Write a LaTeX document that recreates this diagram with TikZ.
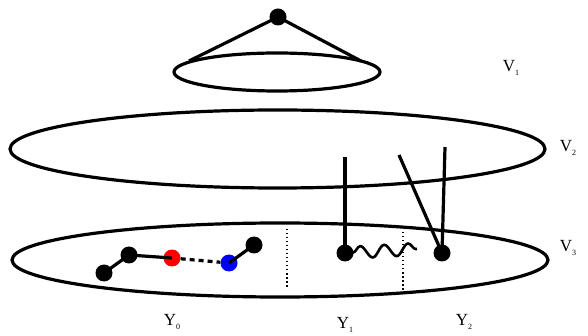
\documentclass[tikz,border=0pt]{standalone}
\usepackage{fontspec}
\setmainfont{Liberation Serif}
\usetikzlibrary{decorations.pathmorphing}
\newcommand\sublab[2]{#1\raisebox{-0.45ex}{\fontsize{8}{8}\selectfont #2}}
\tikzset{
  ring/.style={draw, line width=3.2pt},
  stroke/.style={line width=3.2pt},
  ball/.style={circle, fill=black, inner sep=0pt, minimum size=17pt},
  lbl/.style={font=\fontsize{17}{17}\selectfont, inner sep=0pt},
  dots/.style={line width=1.1pt, dash pattern=on 1.5pt off 2.5pt}
}
\begin{document}
\begin{tikzpicture}[x=1pt,y=-1pt]
\useasboundingbox (0,0) rectangle (588,336);
% ellipses
\draw[ring] (277,72) ellipse [x radius=103, y radius=19];
\draw[ring] (277.5,149) ellipse [x radius=267.5, y radius=39];
\draw[ring] (280,260) ellipse [x radius=268, y radius=37];
% apex and cone
\node[ball] (apex) at (278,17) {};
\coordinate (cl) at (189,61);
\coordinate (cr) at (361,61);
\draw[stroke] (cl) -- (apex.center) -- (cr);
% dotted separators
\coordinate (d1t) at (287,229); \coordinate (d1b) at (287,289);
\coordinate (d2t) at (403,232); \coordinate (d2b) at (403,290);
\draw[dots] (d1t) -- (d1b);
\draw[dots] (d2t) -- (d2b);
% Y0 chain
\node[ball] (a) at (104,273) {};
\node[ball] (b) at (129,255) {};
\node[ball, fill=red] (r) at (172,258) {};
\node[ball, fill=blue] (bl) at (229,263) {};
\node[ball] (e) at (254,245) {};
\draw[stroke] (a.center) -- (b.center) -- (r.center);
\draw[line width=3.2pt, dash pattern=on 5pt off 4pt] (r) -- (bl);
\draw[stroke] (bl.center) -- (e.center);
% Y1 and Y2
\node[ball] (y1) at (345,253) {};
\node[ball] (y2) at (442,253) {};
\coordinate (y1t) at (345,157);
\coordinate (y2t) at (445,147);
\coordinate (y2d) at (399,155);
\coordinate (wend) at (417,249);
\draw[stroke] (y1.center) -- (y1t);
\draw[stroke] (y2.center) -- (y2t);
\draw[stroke] (y2.center) -- (y2d);
\draw[line width=2.6pt, decorate, decoration={snake, amplitude=6pt, segment length=24pt, pre length=8pt, post length=0pt}] (y1.center) -- (wend);
% labels
\node[lbl] (v1) at (511,68) {\sublab{V}{1}};
\node[lbl] (v2) at (568,148) {\sublab{V}{2}};
\node[lbl] (v3) at (568,248) {\sublab{V}{3}};
\node[lbl] (l0) at (172,322) {\sublab{Y}{0}};
\node[lbl] (l1) at (345,325) {\sublab{Y}{1}};
\node[lbl] (l2) at (464,322) {\sublab{Y}{2}};
\end{tikzpicture}
\end{document}
